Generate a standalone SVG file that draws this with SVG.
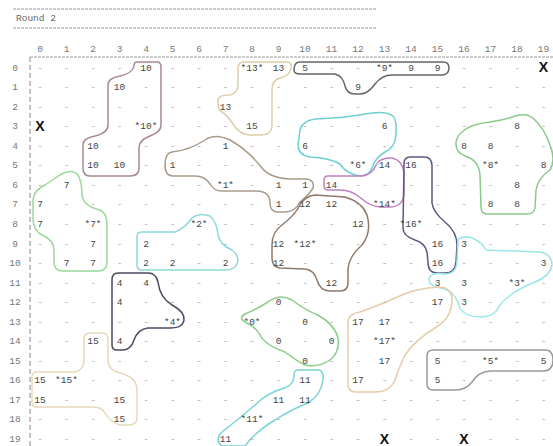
<svg xmlns="http://www.w3.org/2000/svg" width="553" height="446" viewBox="0 0 553 446">
<style>
text{font-family:"Liberation Mono","DejaVu Sans Mono",monospace;font-size:9.5px;text-anchor:middle;fill:#444}
.d text{fill:#aaa}
.h{fill:#777}
.x{font-family:"Liberation Sans",Arial,sans-serif;font-weight:bold;font-size:14px;fill:#111}
.t{text-anchor:start;fill:#666}
.rule{stroke:#999;stroke-width:1;stroke-dasharray:3 1;fill:none}
.blob{fill:none;stroke-width:1.5;stroke-linejoin:round}
</style>
<rect width="553" height="446" fill="#fff"/>
<g id="header">
<line class="rule" x1="13" y1="9" x2="376" y2="9"/>
<line class="rule" x1="13" y1="28" x2="376" y2="28"/>
<text class="t" x="16" y="21">Round 2</text>
<line class="rule" x1="30" y1="57" x2="553" y2="57"/>
<line x1="30" y1="57" x2="30" y2="446" stroke="#888" stroke-dasharray="5 3"/>
<text class="h" x="40" y="52">0</text><text class="h" x="66.5" y="52">1</text><text class="h" x="93" y="52">2</text><text class="h" x="119.5" y="52">3</text><text class="h" x="146" y="52">4</text><text class="h" x="172.5" y="52">5</text><text class="h" x="199" y="52">6</text><text class="h" x="225.5" y="52">7</text><text class="h" x="252" y="52">8</text><text class="h" x="278.5" y="52">9</text><text class="h" x="305" y="52">10</text><text class="h" x="331.5" y="52">11</text><text class="h" x="358" y="52">12</text><text class="h" x="384.5" y="52">13</text><text class="h" x="411" y="52">14</text><text class="h" x="437.5" y="52">15</text><text class="h" x="464" y="52">16</text><text class="h" x="490.5" y="52">17</text><text class="h" x="517" y="52">18</text><text class="h" x="543.5" y="52">19</text>
<text class="h" x="15" y="70.5">0</text><text class="h" x="15" y="90.1">1</text><text class="h" x="15" y="109.6">2</text><text class="h" x="15" y="129.2">3</text><text class="h" x="15" y="148.7">4</text><text class="h" x="15" y="168.3">5</text><text class="h" x="15" y="187.8">6</text><text class="h" x="15" y="207.4">7</text><text class="h" x="15" y="226.9">8</text><text class="h" x="15" y="246.5">9</text><text class="h" x="15" y="266">10</text><text class="h" x="15" y="285.6">11</text><text class="h" x="15" y="305.1">12</text><text class="h" x="15" y="324.7">13</text><text class="h" x="15" y="344.2">14</text><text class="h" x="15" y="363.8">15</text><text class="h" x="15" y="383.3">16</text><text class="h" x="15" y="402.9">17</text><text class="h" x="15" y="422.4">18</text><text class="h" x="15" y="442">19</text>
</g>
<g id="connectors"></g>
<g id="cluster-10"><path class="blob" stroke="#a88890" d="M137 62 L157 62 Q161 62 161 67 L161 125 Q161 132 150 136 Q139 140 139 148 L139 168 Q139 176 130 176 L90 176 Q83 176 83 168 L83 145 Q83 138 95 136 Q108 133 108 125 L108 85 Q108 78 120 76 Q133 73 134 66 Q134 62 137 62 Z"/></g>
<g id="cluster-13"><path class="blob" stroke="#dccfa8" d="M244 62 L287 62 Q292 62 291 68 Q290 76 280 78 Q272 80 272 90 L272 125 Q272 135 260 135 L250 135 Q240 135 233 124 Q226 114 222 112 Q218 110 218 104 L218 100 Q218 95 230 95 Q238 93 238 85 L238 68 Q238 62 244 62 Z"/></g>
<g id="cluster-9"><path class="blob" stroke="#666" d="M300 62 L443 62 Q449 62 449 68 Q449 74 443 75 L392 75 Q382 75 375 84 Q368 94 360 94 L355 94 Q347 94 345 86 Q343 76 335 74 L300 74 Q294 74 294 70 Q294 62 300 62 Z"/></g>
<g id="cluster-6"><path class="blob" stroke="#6fd0d0" d="M300 130 Q302 121 315 119 Q345 118 365 114 Q385 110 393 116 Q397 120 396 135 Q395 148 385 152 Q375 158 372 168 Q368 178 355 175 Q345 172 340 164 Q330 158 310 157 Q298 155 298 145 Z"/></g>
<g id="cluster-8"><path class="blob" stroke="#8cc88c" d="M462 132 Q470 124 490 122 Q505 120 515 116 Q528 112 535 120 Q545 130 550 145 Q556 160 550 170 Q538 178 536 190 L535 208 Q534 214 527 214 L487 214 Q481 214 481 207 L480 175 Q479 160 465 156 Q455 152 456 142 Q457 136 462 132 Z"/></g>
<g id="cluster-1"><path class="blob" stroke="#a89a8a" d="M172 152 Q190 150 205 140 Q215 133 230 140 Q248 150 262 168 Q270 178 290 179 L306 179 Q315 180 313 188 Q308 196 300 202 Q295 212 285 212 L278 212 Q270 212 270 203 Q270 192 258 191 L222 191 Q214 191 210 184 Q205 176 195 176 L173 176 Q165 176 165 165 Q165 153 172 152 Z"/></g>
<g id="cluster-14"><path class="blob" stroke="#c080c0" d="M328 176 L362 176 Q372 175 376 165 Q380 157 392 158 Q402 160 404 172 L404 195 Q402 207 390 207 L380 207 Q370 206 362 199 Q352 190 340 190 L328 190 Q324 190 324 185 L324 180 Q324 176 328 176 Z"/></g>
<g id="cluster-16"><path class="blob" stroke="#5a5a80" d="M410 157 L424 157 Q432 157 432 166 L432 203 Q433 212 445 222 Q457 232 457 245 L456 262 Q455 273 445 273 L437 273 Q428 273 428 262 L427 252 Q425 243 415 240 Q403 236 403 228 L404 164 Q404 157 410 157 Z"/></g>
<g id="cluster-7"><path class="blob" stroke="#96d896" d="M60 175 Q72 168 78 175 Q82 182 82 195 Q83 206 100 210 Q107 213 107 225 L107 262 Q107 271 98 271 L63 271 Q54 271 54 262 L54 250 Q54 240 42 235 Q33 230 33 218 L33 200 Q34 190 45 185 Z"/></g>
<g id="cluster-2"><path class="blob" stroke="#8cd8dc" d="M142 232 L175 232 Q185 228 192 218 Q200 212 210 216 Q217 222 218 235 Q220 245 232 250 Q240 256 237 264 Q234 270 225 270 L142 270 Q137 270 137 265 L137 237 Q137 232 142 232 Z"/></g>
<g id="cluster-12"><path class="blob" stroke="#907868" d="M300 205 Q305 196 315 195 L345 197 Q362 202 367 215 Q372 232 362 245 Q350 255 348 268 L348 283 Q348 291 340 291 L330 291 Q320 291 317 280 Q314 270 305 269 L280 268 Q272 267 272 258 L272 245 Q272 232 282 225 Q295 215 300 205 Z"/></g>
<g id="cluster-4"><path class="blob" stroke="#4a4a60" d="M118 273 L148 273 Q156 273 158 282 Q160 298 172 305 Q185 312 184 320 Q183 328 170 328 L148 328 Q138 329 134 340 Q131 350 122 350 L117 350 Q112 350 112 345 L112 280 Q112 273 118 273 Z"/></g>
<g id="cluster-3"><path class="blob" stroke="#9ce6e6" d="M458 240 Q462 235 472 238 Q482 242 486 250 L540 252 Q552 254 552 265 Q550 276 535 282 Q510 292 500 305 Q495 317 480 317 Q465 317 460 308 Q455 290 440 288 Q428 286 429 278 Q432 272 445 274 Q456 274 457 262 Z"/></g>
<g id="cluster-0"><path class="blob" stroke="#8ccc8c" d="M245 314 Q255 310 268 302 Q280 293 292 300 Q305 310 318 315 Q335 325 338 338 Q340 352 330 360 Q318 368 305 365 Q295 360 285 352 Q265 345 260 335 Q255 326 245 322 Q238 318 245 314 Z"/></g>
<g id="cluster-17"><path class="blob" stroke="#e6cca8" d="M360 312 Q380 305 395 298 Q415 288 440 287 Q452 288 452 300 Q452 318 435 328 Q415 340 405 355 Q398 370 395 380 Q390 392 375 392 L356 392 Q348 392 348 384 L348 322 Q348 314 360 312 Z"/></g>
<g id="cluster-5"><path class="blob" stroke="#999" d="M433 350 L545 350 Q553 350 553 360 Q553 371 543 371 L490 371 Q478 372 472 382 Q466 390 455 390 L433 390 Q427 390 427 384 L427 356 Q427 350 433 350 Z"/></g>
<g id="cluster-15"><path class="blob" stroke="#e8d8b8" d="M90 333 L103 333 Q108 333 108 340 L108 360 Q108 370 120 373 Q137 377 137 390 L137 418 Q137 425 128 425 L120 425 Q110 422 105 413 Q102 407 93 407 L36 407 Q32 407 32 402 L32 377 Q32 372 37 372 L75 372 Q84 370 84 360 L84 340 Q84 333 90 333 Z"/></g>
<g id="cluster-11"><path class="blob" stroke="#78d4d4" d="M297 370 L318 370 Q324 370 323 380 Q321 395 308 403 Q290 410 275 420 Q255 432 245 446 L222 446 Q214 440 222 432 Q240 418 255 405 Q268 392 285 388 Q294 384 294 376 Q294 370 297 370 Z"/></g>
<g id="dashes" class="d">
<g transform="translate(0,70.5)"><text x="40">-</text><text x="66.5">-</text><text x="93">-</text><text x="119.5">-</text><text x="172.5">-</text><text x="199">-</text><text x="225.5">-</text><text x="331.5">-</text><text x="358">-</text><text x="464">-</text><text x="490.5">-</text><text x="517">-</text></g>
<g transform="translate(0,90.1)"><text x="40">-</text><text x="66.5">-</text><text x="93">-</text><text x="146">-</text><text x="172.5">-</text><text x="199">-</text><text x="225.5">-</text><text x="252">-</text><text x="278.5">-</text><text x="305">-</text><text x="331.5">-</text><text x="384.5">-</text><text x="411">-</text><text x="437.5">-</text><text x="464">-</text><text x="490.5">-</text><text x="517">-</text><text x="543.5">-</text></g>
<g transform="translate(0,109.6)"><text x="40">-</text><text x="66.5">-</text><text x="93">-</text><text x="119.5">-</text><text x="146">-</text><text x="172.5">-</text><text x="199">-</text><text x="252">-</text><text x="278.5">-</text><text x="305">-</text><text x="331.5">-</text><text x="358">-</text><text x="384.5">-</text><text x="411">-</text><text x="437.5">-</text><text x="464">-</text><text x="490.5">-</text><text x="517">-</text><text x="543.5">-</text></g>
<g transform="translate(0,129.2)"><text x="66.5">-</text><text x="93">-</text><text x="119.5">-</text><text x="172.5">-</text><text x="199">-</text><text x="225.5">-</text><text x="278.5">-</text><text x="305">-</text><text x="331.5">-</text><text x="358">-</text><text x="411">-</text><text x="437.5">-</text><text x="464">-</text><text x="490.5">-</text><text x="543.5">-</text></g>
<g transform="translate(0,148.7)"><text x="40">-</text><text x="66.5">-</text><text x="119.5">-</text><text x="146">-</text><text x="172.5">-</text><text x="199">-</text><text x="252">-</text><text x="278.5">-</text><text x="331.5">-</text><text x="358">-</text><text x="384.5">-</text><text x="411">-</text><text x="437.5">-</text><text x="517">-</text><text x="543.5">-</text></g>
<g transform="translate(0,168.3)"><text x="40">-</text><text x="66.5">-</text><text x="146">-</text><text x="199">-</text><text x="225.5">-</text><text x="252">-</text><text x="278.5">-</text><text x="305">-</text><text x="331.5">-</text><text x="437.5">-</text><text x="464">-</text><text x="517">-</text></g>
<g transform="translate(0,187.8)"><text x="40">-</text><text x="93">-</text><text x="119.5">-</text><text x="146">-</text><text x="172.5">-</text><text x="199">-</text><text x="252">-</text><text x="358">-</text><text x="384.5">-</text><text x="411">-</text><text x="437.5">-</text><text x="464">-</text><text x="490.5">-</text><text x="543.5">-</text></g>
<g transform="translate(0,207.4)"><text x="66.5">-</text><text x="93">-</text><text x="119.5">-</text><text x="146">-</text><text x="172.5">-</text><text x="199">-</text><text x="225.5">-</text><text x="252">-</text><text x="358">-</text><text x="411">-</text><text x="437.5">-</text><text x="464">-</text><text x="543.5">-</text></g>
<g transform="translate(0,226.9)"><text x="66.5">-</text><text x="119.5">-</text><text x="146">-</text><text x="172.5">-</text><text x="225.5">-</text><text x="252">-</text><text x="278.5">-</text><text x="305">-</text><text x="331.5">-</text><text x="384.5">-</text><text x="437.5">-</text><text x="464">-</text><text x="490.5">-</text><text x="517">-</text><text x="543.5">-</text></g>
<g transform="translate(0,246.5)"><text x="40">-</text><text x="66.5">-</text><text x="119.5">-</text><text x="172.5">-</text><text x="199">-</text><text x="225.5">-</text><text x="252">-</text><text x="331.5">-</text><text x="358">-</text><text x="384.5">-</text><text x="411">-</text><text x="490.5">-</text><text x="517">-</text><text x="543.5">-</text></g>
<g transform="translate(0,266)"><text x="40">-</text><text x="119.5">-</text><text x="199">-</text><text x="252">-</text><text x="305">-</text><text x="331.5">-</text><text x="358">-</text><text x="384.5">-</text><text x="411">-</text><text x="464">-</text><text x="490.5">-</text><text x="517">-</text></g>
<g transform="translate(0,285.6)"><text x="40">-</text><text x="66.5">-</text><text x="93">-</text><text x="172.5">-</text><text x="199">-</text><text x="225.5">-</text><text x="252">-</text><text x="278.5">-</text><text x="305">-</text><text x="358">-</text><text x="384.5">-</text><text x="411">-</text><text x="490.5">-</text><text x="543.5">-</text></g>
<g transform="translate(0,305.1)"><text x="40">-</text><text x="66.5">-</text><text x="93">-</text><text x="146">-</text><text x="172.5">-</text><text x="199">-</text><text x="225.5">-</text><text x="252">-</text><text x="305">-</text><text x="331.5">-</text><text x="358">-</text><text x="384.5">-</text><text x="411">-</text><text x="490.5">-</text><text x="517">-</text><text x="543.5">-</text></g>
<g transform="translate(0,324.7)"><text x="40">-</text><text x="66.5">-</text><text x="93">-</text><text x="119.5">-</text><text x="146">-</text><text x="199">-</text><text x="225.5">-</text><text x="278.5">-</text><text x="331.5">-</text><text x="411">-</text><text x="437.5">-</text><text x="464">-</text><text x="490.5">-</text><text x="517">-</text><text x="543.5">-</text></g>
<g transform="translate(0,344.2)"><text x="40">-</text><text x="66.5">-</text><text x="146">-</text><text x="172.5">-</text><text x="199">-</text><text x="225.5">-</text><text x="252">-</text><text x="305">-</text><text x="358">-</text><text x="411">-</text><text x="437.5">-</text><text x="464">-</text><text x="490.5">-</text><text x="517">-</text><text x="543.5">-</text></g>
<g transform="translate(0,363.8)"><text x="40">-</text><text x="66.5">-</text><text x="93">-</text><text x="119.5">-</text><text x="146">-</text><text x="172.5">-</text><text x="199">-</text><text x="225.5">-</text><text x="252">-</text><text x="278.5">-</text><text x="331.5">-</text><text x="358">-</text><text x="411">-</text><text x="464">-</text><text x="517">-</text></g>
<g transform="translate(0,383.3)"><text x="93">-</text><text x="119.5">-</text><text x="146">-</text><text x="172.5">-</text><text x="199">-</text><text x="225.5">-</text><text x="252">-</text><text x="278.5">-</text><text x="331.5">-</text><text x="384.5">-</text><text x="411">-</text><text x="464">-</text><text x="490.5">-</text><text x="517">-</text><text x="543.5">-</text></g>
<g transform="translate(0,402.9)"><text x="66.5">-</text><text x="93">-</text><text x="146">-</text><text x="172.5">-</text><text x="199">-</text><text x="225.5">-</text><text x="252">-</text><text x="331.5">-</text><text x="358">-</text><text x="384.5">-</text><text x="411">-</text><text x="437.5">-</text><text x="464">-</text><text x="490.5">-</text><text x="517">-</text><text x="543.5">-</text></g>
<g transform="translate(0,422.4)"><text x="40">-</text><text x="66.5">-</text><text x="93">-</text><text x="146">-</text><text x="172.5">-</text><text x="199">-</text><text x="225.5">-</text><text x="278.5">-</text><text x="305">-</text><text x="331.5">-</text><text x="358">-</text><text x="384.5">-</text><text x="411">-</text><text x="437.5">-</text><text x="464">-</text><text x="490.5">-</text><text x="517">-</text><text x="543.5">-</text></g>
<g transform="translate(0,442)"><text x="40">-</text><text x="66.5">-</text><text x="93">-</text><text x="119.5">-</text><text x="146">-</text><text x="172.5">-</text><text x="199">-</text><text x="252">-</text><text x="278.5">-</text><text x="305">-</text><text x="331.5">-</text><text x="358">-</text><text x="411">-</text><text x="437.5">-</text><text x="490.5">-</text><text x="517">-</text><text x="543.5">-</text></g>
</g>
<g id="cells">
<text x="146" y="70.5">10</text><text x="252" y="70.5">*13*</text><text x="278.5" y="70.5">13</text><text x="305" y="70.5">5</text><text x="384.5" y="70.5">*9*</text><text x="411" y="70.5">9</text><text x="437.5" y="70.5">9</text><text class="x" x="543.5" y="72">X</text>
<text x="119.5" y="90.1">10</text><text x="358" y="90.1">9</text>
<text x="225.5" y="109.6">13</text>
<text class="x" x="40" y="130.7">X</text><text x="146" y="129.2">*10*</text><text x="252" y="129.2">15</text><text x="384.5" y="129.2">6</text><text x="517" y="129.2">8</text>
<text x="93" y="148.7">10</text><text x="225.5" y="148.7">1</text><text x="305" y="148.7">6</text><text x="464" y="148.7">8</text><text x="490.5" y="148.7">8</text>
<text x="93" y="168.3">10</text><text x="119.5" y="168.3">10</text><text x="172.5" y="168.3">1</text><text x="358" y="168.3">*6*</text><text x="384.5" y="168.3">14</text><text x="411" y="168.3">16</text><text x="490.5" y="168.3">*8*</text><text x="543.5" y="168.3">8</text>
<text x="66.5" y="187.8">7</text><text x="225.5" y="187.8">*1*</text><text x="278.5" y="187.8">1</text><text x="305" y="187.8">1</text><text x="331.5" y="187.8">14</text><text x="517" y="187.8">8</text>
<text x="40" y="207.4">7</text><text x="278.5" y="207.4">1</text><text x="305" y="207.4">12</text><text x="331.5" y="207.4">12</text><text x="384.5" y="207.4">*14*</text><text x="490.5" y="207.4">8</text><text x="517" y="207.4">8</text>
<text x="40" y="226.9">7</text><text x="93" y="226.9">*7*</text><text x="199" y="226.9">*2*</text><text x="358" y="226.9">12</text><text x="411" y="226.9">*16*</text>
<text x="93" y="246.5">7</text><text x="146" y="246.5">2</text><text x="278.5" y="246.5">12</text><text x="305" y="246.5">*12*</text><text x="437.5" y="246.5">16</text><text x="464" y="246.5">3</text>
<text x="66.5" y="266">7</text><text x="93" y="266">7</text><text x="146" y="266">2</text><text x="172.5" y="266">2</text><text x="225.5" y="266">2</text><text x="278.5" y="266">12</text><text x="437.5" y="266">16</text><text x="543.5" y="266">3</text>
<text x="119.5" y="285.6">4</text><text x="146" y="285.6">4</text><text x="331.5" y="285.6">12</text><text x="437.5" y="285.6">3</text><text x="464" y="285.6">3</text><text x="517" y="285.6">*3*</text>
<text x="119.5" y="305.1">4</text><text x="278.5" y="305.1">0</text><text x="437.5" y="305.1">17</text><text x="464" y="305.1">3</text>
<text x="172.5" y="324.7">*4*</text><text x="252" y="324.7">*0*</text><text x="305" y="324.7">0</text><text x="358" y="324.7">17</text><text x="384.5" y="324.7">17</text>
<text x="93" y="344.2">15</text><text x="119.5" y="344.2">4</text><text x="278.5" y="344.2">0</text><text x="331.5" y="344.2">0</text><text x="384.5" y="344.2">*17*</text>
<text x="305" y="363.8">0</text><text x="384.5" y="363.8">17</text><text x="437.5" y="363.8">5</text><text x="490.5" y="363.8">*5*</text><text x="543.5" y="363.8">5</text>
<text x="40" y="383.3">15</text><text x="66.5" y="383.3">*15*</text><text x="305" y="383.3">11</text><text x="358" y="383.3">17</text><text x="437.5" y="383.3">5</text>
<text x="40" y="402.9">15</text><text x="119.5" y="402.9">15</text><text x="278.5" y="402.9">11</text><text x="305" y="402.9">11</text>
<text x="119.5" y="422.4">15</text><text x="252" y="422.4">*11*</text>
<text x="225.5" y="442">11</text><text class="x" x="384.5" y="443.5">X</text><text class="x" x="464" y="443.5">X</text>
</g>
</svg>
